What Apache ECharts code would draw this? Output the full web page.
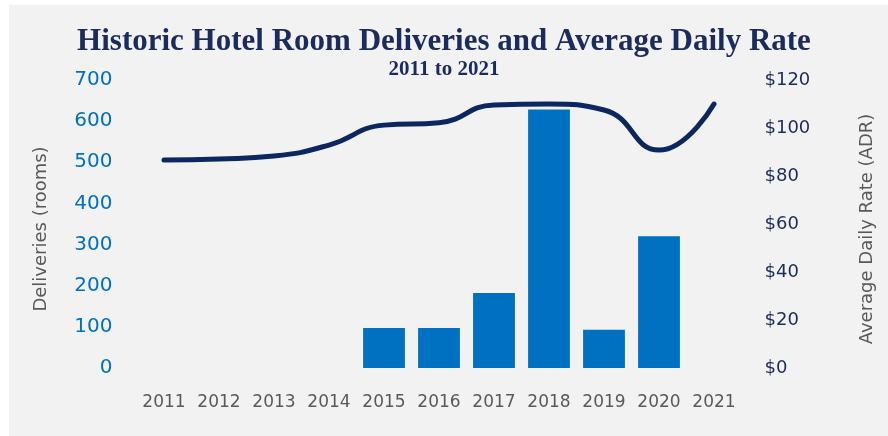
<!DOCTYPE html>
<html>
<head>
<meta charset="utf-8">
<script src="https://cdn.jsdelivr.net/npm/echarts@6/dist/echarts.min.js"></script>
<style>
html,body{margin:0;padding:0;background:#ffffff;}
#chart{width:888px;height:436px;}
</style>
</head>
<body>
<div id="chart"></div>
<script>
var years = ['2011','2012','2013','2014','2015','2016','2017','2018','2019','2020','2021'];
var deliveries = [null, null, null, null, 97, 97, 182, 628, 93, 320, null];
var adr = [86.7, 87.1, 88.3, 92.9, 101.2, 102.2, 109.6, 110, 107.5, 90.8, 110];

var chart = echarts.init(document.getElementById('chart'), null, {renderer:'canvas'});
var option = {
  animation: false,
  backgroundColor: '#ffffff',
  graphic: [{
    type: 'rect', z: -10, silent: true,
    shape: {x: 9, y: 5, width: 879, height: 431},
    style: {fill: '#f2f2f2'}
  }],
  title: [{
    text: 'Historic Hotel Room Deliveries and Average Daily Rate',
    left: 'center', top: 21,
    textStyle: {fontFamily: 'Liberation Serif', fontWeight: 'bold', fontSize: 31, color: '#1b2b5e'}
  }, {
    text: '2011 to 2021',
    left: 'center', top: 54,
    textStyle: {fontFamily: 'Liberation Serif', fontWeight: 'bold', fontSize: 21, color: '#1b2b5e'}
  }],
  grid: {left: 136.5, right: 146.5, top: 80, bottom: 68},
  xAxis: {
    type: 'category',
    data: years,
    boundaryGap: true,
    axisLine: {show: false},
    axisTick: {show: false},
    axisLabel: {color: '#595959', fontFamily: 'DejaVu Sans', fontSize: 17, margin: 26, interval: 0}
  },
  yAxis: [{
    type: 'value', min: 0, max: 700, interval: 100,
    name: 'Deliveries (rooms)', nameLocation: 'middle', nameGap: 86, nameRotate: 90,
    nameTextStyle: {color: '#595959', fontFamily: 'DejaVu Sans', fontSize: 18, padding: [0, 10, 0, 0]},
    splitLine: {show: false},
    axisLine: {show: false}, axisTick: {show: false},
    axisLabel: {color: '#0070c0', fontFamily: 'DejaVu Sans', fontSize: 20, margin: 24}
  }, {
    type: 'value', min: 0, max: 120, interval: 20,
    name: 'Average Daily Rate (ADR)', nameLocation: 'middle', nameGap: 117, nameRotate: 90,
    nameTextStyle: {color: '#595959', fontFamily: 'DejaVu Sans', fontSize: 18, padding: [0, 10, 0, 0]},
    splitLine: {show: false},
    axisLine: {show: false}, axisTick: {show: false},
    axisLabel: {color: '#1b2b5e', fontFamily: 'DejaVu Sans', fontSize: 18, margin: 23,
      formatter: function (v) { return '$' + v; }}
  }],
  series: [{
    type: 'bar', name: 'Deliveries', data: deliveries, yAxisIndex: 0,
    barWidth: '76%',
    itemStyle: {color: '#0070c0'}
  }, {
    type: 'line', name: 'ADR', data: adr, yAxisIndex: 1,
    smooth: 0.5, symbol: 'none',
    lineStyle: {color: '#0b2660', width: 5, cap: 'round'},
    z: 5
  }]
};
chart.setOption(option);
</script>
</body>
</html>
